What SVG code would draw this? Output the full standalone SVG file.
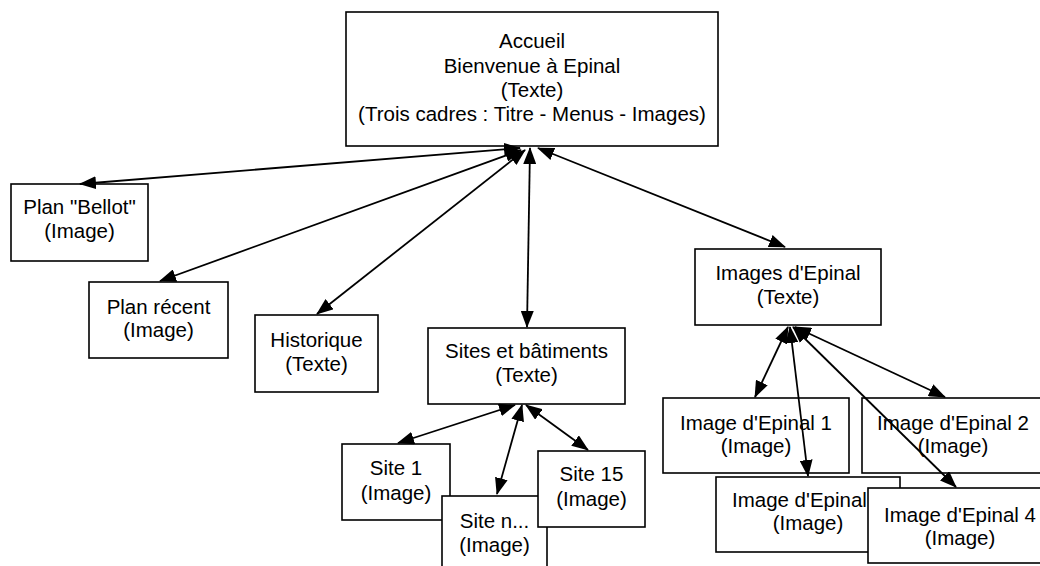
<svg xmlns="http://www.w3.org/2000/svg" width="1040" height="566" viewBox="0 0 1040 566">
<defs>
<style>
.box{fill:#fff;stroke:#000;stroke-width:1.6}
.t{font-family:"Liberation Sans",Arial,sans-serif;font-size:20.5px;fill:#000;text-anchor:middle}
.c{fill:none;stroke:#000;stroke-width:1.8;marker-start:url(#ah);marker-end:url(#ah)}
</style>
<marker id="ah" markerUnits="userSpaceOnUse" markerWidth="17" markerHeight="13" refX="16" refY="6.5" orient="auto-start-reverse" viewBox="0 0 17 13">
<path d="M0,0 L17,6.5 L0,13 Z" fill="#000"/>
</marker>
</defs>
<rect width="1040" height="566" fill="#fff"/>
<g id="accueil">
<rect class="box" x="346" y="12" width="372" height="134"/>
<text class="t" x="532" y="48">Accueil</text>
<text class="t" x="532" y="73">Bienvenue à Epinal</text>
<text class="t" x="532" y="97">(Texte)</text>
<text class="t" x="532" y="121">(Trois cadres : Titre - Menus - Images)</text>
</g>
<g id="plan-bellot">
<rect class="box" x="11" y="184" width="137" height="77"/>
<text class="t" x="79.5" y="214">Plan "Bellot"</text>
<text class="t" x="79.5" y="238">(Image)</text>
</g>
<g id="plan-recent">
<rect class="box" x="89" y="282" width="139" height="76"/>
<text class="t" x="158.5" y="314">Plan récent</text>
<text class="t" x="158.5" y="337">(Image)</text>
</g>
<g id="historique">
<rect class="box" x="255" y="315" width="123" height="77"/>
<text class="t" x="316.5" y="347">Historique</text>
<text class="t" x="316.5" y="371">(Texte)</text>
</g>
<g id="sites">
<rect class="box" x="428" y="328" width="197" height="76"/>
<text class="t" x="526.5" y="358">Sites et bâtiments</text>
<text class="t" x="526.5" y="382">(Texte)</text>
</g>
<g id="site-1">
<rect class="box" x="342" y="444" width="108" height="76"/>
<text class="t" x="396" y="475">Site 1</text>
<text class="t" x="396" y="500">(Image)</text>
</g>
<g id="site-n">
<rect class="box" x="442" y="496" width="105" height="76"/>
<text class="t" x="494.5" y="528">Site n...</text>
<text class="t" x="494.5" y="552">(Image)</text>
</g>
<g id="site-15">
<rect class="box" x="538" y="451" width="107" height="76"/>
<text class="t" x="591.5" y="481">Site 15</text>
<text class="t" x="591.5" y="506">(Image)</text>
</g>
<g id="images-epinal">
<rect class="box" x="695" y="249" width="186" height="76"/>
<text class="t" x="788" y="280">Images d'Epinal</text>
<text class="t" x="788" y="304">(Texte)</text>
</g>
<g id="image-1">
<rect class="box" x="663" y="398" width="186" height="75"/>
<text class="t" x="756" y="430">Image d'Epinal 1</text>
<text class="t" x="756" y="453">(Image)</text>
</g>
<g id="image-2">
<rect class="box" x="862" y="398" width="184" height="75"/>
<text class="t" x="953" y="430">Image d'Epinal 2</text>
<text class="t" x="953" y="453">(Image)</text>
</g>
<g id="image-3">
<rect class="box" x="716" y="477" width="184" height="75"/>
<text class="t" x="808" y="507">Image d'Epinal 3</text>
<text class="t" x="808" y="530">(Image)</text>
</g>
<g id="image-4">
<rect class="box" x="868" y="488" width="184" height="75"/>
<text class="t" x="960" y="522">Image d'Epinal 4</text>
<text class="t" x="960" y="545">(Image)</text>
</g>
<g id="connectors">
<line class="c" x1="520" y1="148" x2="80" y2="184"/>
<line class="c" x1="521" y1="150" x2="160" y2="281"/>
<line class="c" x1="525" y1="150" x2="317" y2="314"/>
<line class="c" x1="530" y1="148" x2="527" y2="327"/>
<line class="c" x1="538" y1="148" x2="785" y2="247"/>
<line class="c" x1="515" y1="405" x2="398" y2="443"/>
<line class="c" x1="522" y1="405" x2="497" y2="494"/>
<line class="c" x1="526" y1="405" x2="588" y2="450"/>
<line class="c" x1="788" y1="327" x2="755" y2="397"/>
<line class="c" x1="790" y1="327" x2="808" y2="476"/>
<line class="c" x1="795" y1="327" x2="945" y2="397"/>
<line class="c" x1="793" y1="327" x2="956" y2="487"/>
</g>
</svg>
